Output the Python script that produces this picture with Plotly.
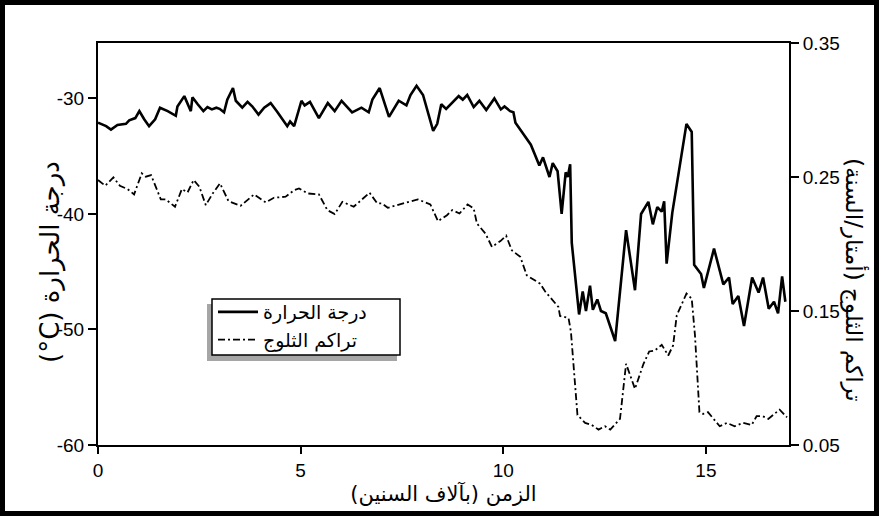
import plotly.graph_objects as go

# ---------------- data ----------------
temp_x = [0, 0.2, 0.32, 0.48, 0.69, 0.77, 0.92, 1.02, 1.14, 1.26,
          1.41, 1.53, 1.72, 1.92, 1.96, 2.13, 2.29, 2.33, 2.46, 2.6,
          2.7, 2.81, 2.92, 3.0, 3.11, 3.19, 3.33, 3.4, 3.56, 3.69,
          3.81, 3.96, 4.1, 4.26, 4.43, 4.67, 4.74, 4.84, 5.02, 5.1,
          5.23, 5.45, 5.67, 5.84, 6.01, 6.27, 6.5, 6.68, 6.77, 6.95,
          7.18, 7.42, 7.61, 7.71, 7.86, 8.02, 8.27, 8.37, 8.47, 8.59,
          8.9, 9.0, 9.11, 9.27, 9.41, 9.58, 9.78, 9.94, 10.03, 10.17,
          10.25, 10.3, 10.5, 10.68, 10.89, 10.98, 11.14, 11.22, 11.34, 11.44,
          11.54, 11.59, 11.65, 11.69, 11.87, 11.96, 12.04, 12.14, 12.21, 12.32,
          12.41, 12.53, 12.76, 13.03, 13.25, 13.4, 13.58, 13.69, 13.8, 13.91,
          13.97, 14.03, 14.17, 14.52, 14.65, 14.71, 14.88, 14.95, 15.2, 15.43,
          15.57, 15.66, 15.8, 15.94, 16.14, 16.3, 16.41, 16.55, 16.68, 16.78,
          16.88, 16.96]
temp_c = [-32.1, -32.4, -32.7, -32.3, -32.2, -31.9, -31.7, -31.1, -31.8, -32.4,
          -31.8, -30.8, -31.1, -31.5, -30.7, -29.8, -31.1, -29.9, -30.5, -31.1,
          -30.75, -30.95, -30.8, -30.9, -31.2, -30.1, -29.1, -30.2, -30.8, -30.3,
          -30.7, -31.4, -30.8, -30.4, -31.2, -32.4, -32.0, -32.4, -30.2, -30.6,
          -30.3, -31.7, -30.4, -31.1, -30.2, -31.2, -30.8, -31.2, -30.1, -29.1,
          -31.6, -30.2, -30.6, -29.7, -28.9, -29.7, -32.8, -32.2, -30.5, -30.9,
          -29.8, -30.1, -29.7, -30.75, -30.2, -31.0, -30.0, -30.95, -30.7, -31.1,
          -31.2, -32.1, -33.1, -34.0, -35.8, -35.1, -36.8, -35.6, -36.3, -40.0,
          -36.4, -36.8, -35.7, -42.5, -48.7, -46.7, -48.4, -46.2, -48.3, -47.4,
          -48.4, -48.6, -51.0, -41.4, -46.6, -40.0, -38.95, -40.9, -39.4, -39.8,
          -38.9, -44.3, -39.9, -32.2, -32.9, -44.4, -45.2, -46.4, -43.0, -46.1,
          -45.5, -47.8, -47.1, -49.7, -45.5, -46.8, -45.5, -48.2, -47.6, -48.6,
          -45.4, -47.6]

snow_x = [0, 0.18, 0.38, 0.54, 0.73, 0.89, 1.08, 1.18, 1.31, 1.55,
          1.67, 1.9, 2.07, 2.21, 2.36, 2.5, 2.66, 2.83, 3.01, 3.22,
          3.52, 3.85, 4.14, 4.34, 4.63, 4.84, 4.96, 5.18, 5.45, 5.66,
          5.84, 6.03, 6.31, 6.5, 6.7, 6.89, 7.01, 7.15, 7.46, 7.89,
          8.2, 8.39, 8.61, 8.74, 8.92, 9.12, 9.27, 9.35, 9.56, 9.72,
          9.93, 10.07, 10.21, 10.42, 10.58, 10.91, 11.03, 11.24, 11.36, 11.4,
          11.61, 11.67, 11.83, 12.02, 12.18, 12.35, 12.51, 12.64, 12.88, 13.03,
          13.25, 13.46, 13.6, 13.74, 13.91, 14.07, 14.19, 14.28, 14.52, 14.65,
          14.73, 14.84, 14.93, 15.05, 15.34, 15.52, 15.71, 15.92, 16.13, 16.25,
          16.4, 16.54, 16.82, 17.0]
snow_m = [0.2477, 0.2435, 0.2497, 0.2435, 0.241, 0.237, 0.2527, 0.2502, 0.2514, 0.2333,
          0.2333, 0.2278, 0.241, 0.2385, 0.2477, 0.2428, 0.229, 0.2377, 0.2452, 0.232,
          0.2285, 0.237, 0.231, 0.2345, 0.2353, 0.2402, 0.2415, 0.2377, 0.237, 0.2253,
          0.2223, 0.2315, 0.2278, 0.2327, 0.2383, 0.2303, 0.2303, 0.227, 0.2295, 0.2333,
          0.2295, 0.217, 0.2215, 0.2253, 0.2228, 0.2295, 0.2265, 0.2153, 0.2078, 0.1979,
          0.2022, 0.2062, 0.1953, 0.1904, 0.1766, 0.1704, 0.1647, 0.1572, 0.153, 0.1463,
          0.1448, 0.1343, 0.0724, 0.0665, 0.065, 0.0615, 0.064, 0.0615, 0.0695, 0.1106,
          0.0919, 0.1106, 0.1198, 0.1205, 0.1248, 0.1168, 0.1243, 0.1467, 0.163, 0.1592,
          0.1318, 0.0745, 0.0732, 0.0745, 0.064, 0.0665, 0.064, 0.0665, 0.065, 0.0715,
          0.0715, 0.0695, 0.0764, 0.0707]

x_ticks = [0, 5, 10, 15]
t_ticks = [-60, -50, -40, -30]
t_tick_text = ["-60", "-50", "-40", "-30"]
s_ticks = [0.05, 0.15, 0.25, 0.35]
s_tick_text = ["0.05", "0.15", "0.25", "0.35"]

name_temp = "درجة الحرارة"
name_snow = "تراكم الثلوج"
x_title = "الزمن (بآلاف السنين)"
y_title = "درجة الحرارة (°C)"
y2_title = "تراكم الثلوج (أمتار/السنة)"

RLE, PDF, LRM = "\u202B", "\u202C", "\u200E"


def rtl(s):
    # right-to-left paragraph rendering; keep "°C" as a left-to-right run
    return RLE + s.replace("(°C", "(" + LRM + "°C") + PDF


# ---------------- layout geometry ----------------
W, H = 879, 516
L, R, T, B = 98, 789, 43, 445


def px(x):
    return (x - L) / (R - L)


def py(y):
    return (B - y) / (B - T)


NUM_FONT = "Liberation Sans, Arial, sans-serif"
AR_FONT = "DejaVu Sans, sans-serif"

fig = go.Figure()
fig.add_trace(go.Scatter(x=temp_x, y=temp_c, mode="lines", name=name_temp,
                         line=dict(color="black", width=2.6), yaxis="y"))
fig.add_trace(go.Scatter(x=snow_x, y=snow_m, mode="lines", name=name_snow,
                         line=dict(color="black", width=1.8, dash="7px,3px,2px,3px"),
                         yaxis="y2"))

fig.update_layout(
    width=W, height=H,
    margin=dict(l=L, r=W - R, t=T, b=H - B, pad=0),
    paper_bgcolor="white", plot_bgcolor="white",
    showlegend=True,
    legend=dict(x=px(213), y=py(293), xanchor="left", yanchor="top",
                bgcolor="rgba(0,0,0,0)", borderwidth=0,
                font=dict(family=AR_FONT, size=19, color="black"),
                itemwidth=40, tracegroupgap=0),
    xaxis=dict(range=[0, 17.05], tickvals=x_ticks, ticks="outside", ticklen=7,
               tickwidth=1.5, tickcolor="black", showline=True, linecolor="black",
               linewidth=2, mirror=True, showgrid=False, zeroline=False,
               tickfont=dict(family=NUM_FONT, size=19, color="black"),
               title=dict(text=rtl(x_title), font=dict(family=AR_FONT, size=21, color="black"),
                          standoff=2)),
    yaxis=dict(range=[-60, -25.2], tickvals=t_ticks, ticktext=t_tick_text,
               ticks="outside", ticklen=8, tickwidth=1.5, tickcolor="black",
               showline=True, linecolor="black", linewidth=2, showgrid=False,
               zeroline=False, tickfont=dict(family=NUM_FONT, size=19, color="black")),
    yaxis2=dict(range=[0.05, 0.35], tickvals=s_ticks, ticktext=s_tick_text,
                overlaying="y", side="right", ticks="outside", ticklen=8,
                tickwidth=1.5, tickcolor="black", showline=True, linecolor="black",
                linewidth=2, showgrid=False, zeroline=False,
                tickfont=dict(family=NUM_FONT, size=19, color="black")),
    annotations=[
        dict(text=rtl(y_title), xref="paper", yref="paper", x=px(50), y=py(262),
             textangle=-90, showarrow=False, xanchor="center", yanchor="middle",
             font=dict(family=AR_FONT, size=26, color="black")),
        dict(text=rtl(y2_title), xref="paper", yref="paper", x=px(855), y=py(280),
             textangle=90, showarrow=False, xanchor="center", yanchor="middle",
             font=dict(family=AR_FONT, size=23, color="black")),
    ],
    shapes=[
        # outer frame
        dict(type="rect", xref="paper", yref="paper", x0=px(2.5), x1=px(876.5),
             y0=py(513.5), y1=py(2.5), line=dict(color="black", width=5), layer="above"),
        # legend shadow
        dict(type="rect", xref="paper", yref="paper", x0=px(207), x1=px(397),
             y0=py(361), y1=py(304), line=dict(width=0),
             fillcolor="rgba(0,0,0,0.35)", layer="above"),
        # legend box
        dict(type="rect", xref="paper", yref="paper", x0=px(212), x1=px(400),
             y0=py(355), y1=py(299), line=dict(color="black", width=1.5),
             fillcolor="white", layer="above"),
    ],
)

fig.write_html("out.html", config={"displayModeBar": False},
               post_script="document.body.style.margin='0';document.body.style.padding='0';")
